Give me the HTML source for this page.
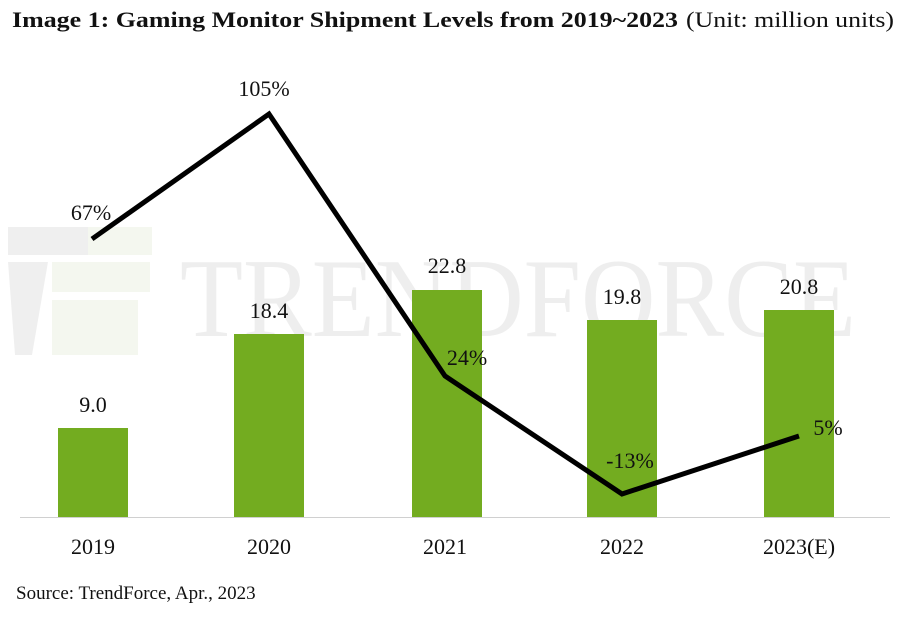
<!DOCTYPE html>
<html><head><style>body{margin:0;background:#fff}</style></head><body>
<svg width="912" height="612" xmlns="http://www.w3.org/2000/svg" font-family="Liberation Serif, serif">
<text x="12" y="27" font-size="22.5" font-weight="bold" fill="#111" textLength="666" lengthAdjust="spacingAndGlyphs">Image 1: Gaming Monitor Shipment Levels from 2019~2023</text>
<text x="686" y="27" font-size="22" fill="#111" textLength="208" lengthAdjust="spacingAndGlyphs">(Unit: million units)</text>
<g opacity="0.6">
<rect x="8" y="227" width="80" height="28" fill="#e6e6e6"/>
<rect x="88" y="227" width="64" height="28" fill="#eef3e6"/>
<polygon points="8,262 48,262 32,355 15,355" fill="#e6e6e6"/>
<rect x="52" y="262" width="98" height="30" fill="#eef3e6"/>
<rect x="52" y="300" width="86" height="55" fill="#eef3e6"/>
<text x="180" y="336" font-size="112" fill="#e4e4e4" textLength="676" lengthAdjust="spacingAndGlyphs">TRENDFORCE</text>
</g>
<line x1="20" y1="517.5" x2="890" y2="517.5" stroke="#d0d0d0" stroke-width="1"/>
<g fill="#73ac20">
<rect x="58" y="428" width="70" height="89"/>
<rect x="234" y="334" width="70" height="183"/>
<rect x="412" y="290" width="70" height="227"/>
<rect x="587" y="320" width="70" height="197"/>
<rect x="764" y="310" width="70" height="207"/>
</g>
<polyline points="92,239 269,114 445,376 622,494 799,436" fill="none" stroke="#000" stroke-width="5" stroke-linejoin="miter"/>
<g font-size="22" fill="#111" text-anchor="middle">
<text x="93" y="412">9.0</text>
<text x="269" y="318">18.4</text>
<text x="447" y="273">22.8</text>
<text x="622" y="304">19.8</text>
<text x="799" y="294">20.8</text>
<text x="91" y="220">67%</text>
<text x="264" y="96">105%</text>
<text x="467" y="365">24%</text>
<text x="630" y="468">-13%</text>
<text x="828" y="435">5%</text>
<text x="93" y="554">2019</text>
<text x="269" y="554">2020</text>
<text x="445" y="554">2021</text>
<text x="622" y="554">2022</text>
<text x="799" y="554">2023(E)</text>
</g>
<text x="16" y="599" font-size="19" fill="#111">Source: TrendForce, Apr., 2023</text>
</svg>
</body></html>
